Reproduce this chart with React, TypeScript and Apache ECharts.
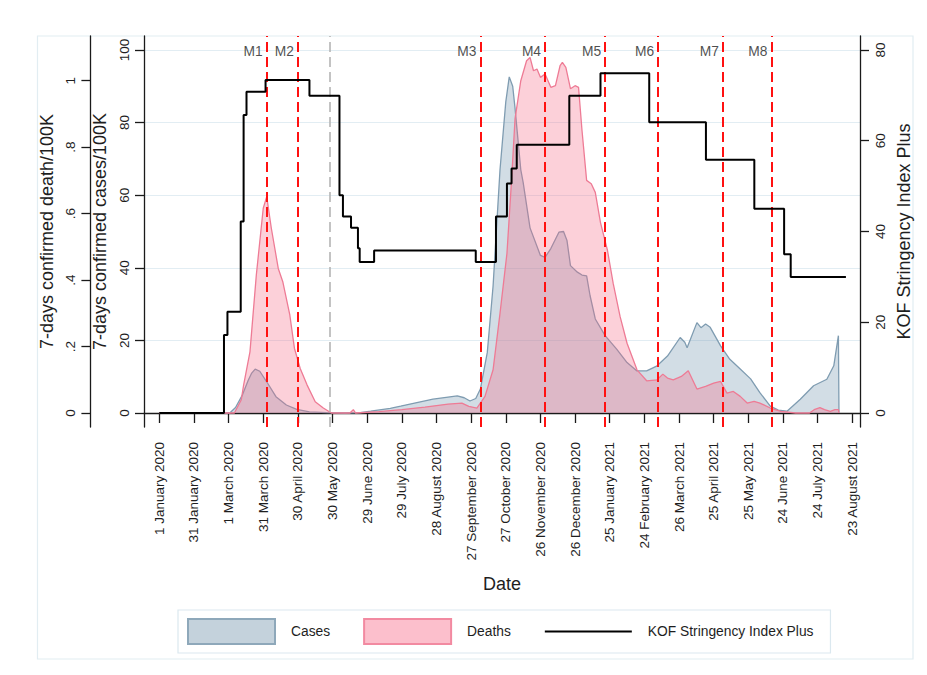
import React, { useEffect, useRef } from 'react';
import * as echarts from 'echarts';

// ---- Data (day index from 1 January 2020) ----
const xTickDays = [0, 30, 60, 90, 120, 150, 180, 210, 240, 270, 300, 330, 360, 390, 420, 450, 480, 510, 540, 570, 600];
const xTickLabels = [
  '1 January 2020', '31 January 2020', '1 March 2020', '31 March 2020', '30 April 2020', '30 May 2020',
  '29 June 2020', '29 July 2020', '28 August 2020', '27 September 2020', '27 October 2020',
  '26 November 2020', '26 December 2020', '25 January 2021', '24 February 2021', '26 March 2021',
  '25 April 2021', '25 May 2021', '24 June 2021', '24 July 2021', '23 August 2021',
];
const casesTicks = [0, 20, 40, 60, 80, 100];
const deathTicks = [0, 0.2, 0.4, 0.6, 0.8, 1];
const deathTickLabels = ['0', '.2', '.4', '.6', '.8', '1'];
const stringencyTicks = [0, 20, 40, 60, 80];

const markerDays = [93, 120, 278, 334, 386, 432, 488, 530];
const markerNames = ['M1', 'M2', 'M3', 'M4', 'M5', 'M6', 'M7', 'M8'];
const greyMarkerDays = [148];

const casesData: [number, number][] = [
  [0, 0], [61, 0], [66, 1.5], [72, 5], [77, 9], [80, 11], [83, 12.1], [87, 11.5], [93, 8.6], [101, 4.5],
  [110, 2.2], [119, 1], [130, 0.3], [145, 0.1], [161, 0], [174, 0.1], [183, 0.5], [200, 1.3], [209, 1.9],
  [225, 3], [237, 3.8], [250, 4.4], [258, 4.7], [264, 4.2], [269, 3.3], [274, 4], [278, 6.6], [284, 16.7],
  [289, 35], [295, 67], [300, 85.7], [303, 92.6], [306, 90], [308, 84], [313, 67], [315, 63.6], [321, 51],
  [330, 43.4], [334, 42.9], [339, 45.3], [346, 49.8], [350, 50], [353, 47.5], [356, 40.6], [362, 38.8],
  [366, 38], [370, 37.8], [373, 32.3], [377.5, 25.9], [386, 21.3], [396, 17.6], [405, 13.9], [413.6, 11.6],
  [422, 11.6], [431, 13], [440, 15.7], [451, 20.8], [455, 19.5], [457, 18], [465.5, 24.9], [469, 23.5],
  [473, 24.5], [477, 23.6], [486, 18.5], [494, 14.8], [503, 12.1], [512, 9.4], [520, 5.6], [529, 1.9],
  [536, 0.8], [543.5, 0.5], [555, 3.8], [566.5, 7.5], [578, 9.3], [584, 13], [588, 21.3], [588.5, 0],
];

const deathsData: [number, number][] = [
  [0, 0], [65, 0], [71, 0.04], [73, 0.084], [78.5, 0.184], [84, 0.415], [90, 0.616], [93, 0.651],
  [97, 0.556], [103, 0.435], [107, 0.394], [113, 0.295], [117, 0.195], [122, 0.134], [128, 0.084],
  [135, 0.034], [142, 0.015], [149, 0], [165, 0], [168, 0.01], [170, 0], [190, 0.004], [210, 0.01],
  [230, 0.018], [250, 0.027], [262, 0.03], [268, 0.02], [275, 0.015], [282, 0.05], [289, 0.13],
  [295, 0.3], [301, 0.48], [305, 0.7], [308, 0.885], [313, 1.0], [318, 1.06], [321, 1.07], [324, 1.03],
  [327, 1.035], [330, 1.01], [334, 1.02], [339, 0.98], [343, 0.985], [347, 1.045], [349, 1.055],
  [352, 1.04], [356, 0.976], [360, 0.985], [363, 0.98], [366, 0.85], [370, 0.7], [374, 0.69],
  [377.5, 0.664], [382, 0.573], [388, 0.49], [393, 0.39], [399, 0.29], [405, 0.21], [413.6, 0.13],
  [422, 0.097], [431, 0.1], [436, 0.117], [440, 0.105], [445, 0.1], [452, 0.11], [458, 0.127],
  [465.5, 0.072], [473, 0.08], [480, 0.09], [486, 0.095], [491.5, 0.06], [497, 0.065], [503, 0.05],
  [509, 0.03], [515, 0.035], [520, 0.03], [529, 0.015], [538, 0.005], [551, 0], [563, 0], [567, 0.01],
  [572, 0.016], [576, 0.01], [581, 0.005], [585, 0.01], [588, 0.01], [588.5, 0],
];

const stringencyData: [number, number][] = [
  [0, 0], [56, 17.2], [59, 22.3], [70.5, 42.2], [73, 65.7], [75.5, 70.8], [92, 73.4], [130, 69.9],
  [156, 48.0], [159, 43.3], [166, 40.8], [172, 36.3], [173.5, 33.3], [186, 35.8], [274, 33.3],
  [291.5, 43.3], [301, 50.6], [305, 53.9], [309.5, 59.1], [355, 69.9], [382, 74.9], [424.2, 64.1],
  [473.3, 55.8], [515.2, 45.0], [541, 35.0], [546.7, 30.0], [594.5, 30.0],
];

const FONT = '"Liberation Sans", Arial, Helvetica, sans-serif';
const TXT = '#1e1e1e';

export default function App() {
  const ref = useRef<HTMLDivElement>(null);
  useEffect(() => {
    if (!ref.current) return;
    const chart = echarts.init(ref.current, undefined, { renderer: 'svg' });
    const axisLineStyle = { color: '#1a1a1a', width: 1.3 };
    const option: any = {
      animation: false,
      backgroundColor: '#ffffff',
      textStyle: { fontFamily: FONT, color: TXT },
      graphic: [
        {
          type: 'rect',
          shape: { x: 37.5, y: 36, width: 875.5, height: 623 },
          style: { fill: 'none', stroke: '#e2edf2', lineWidth: 1.2 },
          silent: true,
          z: 0,
        },
      ],
      grid: { left: 144, right: 67, top: 36, bottom: 248, containLabel: false },
      legend: {
        left: 178,
        top: 610,
        orient: 'horizontal',
        padding: [8, 17, 8, 9],
        borderColor: '#dbe8ef',
        borderWidth: 1.2,
        itemWidth: 87,
        itemHeight: 25,
        itemGap: 33,
        textStyle: { fontSize: 13.8, color: TXT, fontFamily: FONT, padding: [0, 11, 0, 11] },
        data: [
          { name: 'Cases', icon: 'rect', itemStyle: { color: '#c4d2dc', borderColor: '#8ea8ba', borderWidth: 2 } },
          { name: 'Deaths', icon: 'rect', itemStyle: { color: '#fcbfcc', borderColor: '#f28aa1', borderWidth: 2 } },
          {
            name: 'KOF Stringency Index Plus',
            itemStyle: { opacity: 0 },
            lineStyle: { color: '#000000', width: 2, opacity: 1 },
          },
        ],
      },
      xAxis: {
        type: 'value',
        min: -13.25,
        max: 606.7,
        name: 'Date',
        nameLocation: 'middle',
        nameGap: 148,
        nameTextStyle: { fontSize: 18, color: TXT, fontFamily: FONT },
        axisLine: { show: true, lineStyle: axisLineStyle },
        axisTick: { show: true, length: 10, customValues: xTickDays, lineStyle: axisLineStyle },
        axisLabel: {
          customValues: xTickDays,
          rotate: 90,
          margin: 15,
          fontSize: 13.5,
          color: TXT,
          fontFamily: FONT,
          formatter: (v: number) => {
            const i = xTickDays.indexOf(Math.round(v));
            return i >= 0 ? xTickLabels[i] : '';
          },
        },
        splitLine: { show: false },
      },
      yAxis: [
        {
          type: 'value',
          position: 'left',
          min: -3.857,
          max: 103.857,
          name: '7-days confirmed cases/100K',
          nameLocation: 'middle',
          nameGap: 30,
          nameTextStyle: { fontSize: 18, color: TXT, fontFamily: FONT },
          axisLine: { show: true, onZero: false, lineStyle: axisLineStyle },
          axisTick: { show: true, length: 9, customValues: casesTicks, lineStyle: axisLineStyle },
          axisLabel: { customValues: casesTicks, rotate: 90, margin: 13, fontSize: 13.5, color: TXT, fontFamily: FONT },
          splitLine: { show: true, lineStyle: { color: '#e2edf3', width: 1.2 } },
        },
        {
          type: 'value',
          position: 'left',
          offset: 53.6,
          min: -0.0421,
          max: 1.1345,
          name: '7-days confirmed death/100K',
          nameLocation: 'middle',
          nameGap: 30,
          nameTextStyle: { fontSize: 18, color: TXT, fontFamily: FONT },
          axisLine: { show: true, onZero: false, lineStyle: axisLineStyle },
          axisTick: { show: true, length: 9, customValues: deathTicks, lineStyle: axisLineStyle },
          axisLabel: {
            customValues: deathTicks,
            rotate: 90,
            margin: 13,
            fontSize: 13.5,
            color: TXT,
            fontFamily: FONT,
            formatter: (v: number) => {
              const i = deathTicks.findIndex((t) => Math.abs(t - v) < 1e-6);
              return i >= 0 ? deathTickLabels[i] : '';
            },
          },
          splitLine: { show: false },
        },
        {
          type: 'value',
          position: 'right',
          min: -3.085,
          max: 83.085,
          name: 'KOF Stringency Index Plus',
          nameLocation: 'middle',
          nameGap: 30,
          nameTextStyle: { fontSize: 18, color: TXT, fontFamily: FONT },
          axisLine: { show: true, onZero: false, lineStyle: axisLineStyle },
          axisTick: { show: true, length: 9, customValues: stringencyTicks, lineStyle: axisLineStyle },
          axisLabel: { customValues: stringencyTicks, rotate: 90, margin: 13, fontSize: 13.5, color: TXT, fontFamily: FONT },
          splitLine: { show: false },
        },
      ],
      series: [
        {
          name: 'Cases',
          type: 'line',
          yAxisIndex: 0,
          data: casesData,
          symbol: 'none',
          smooth: false,
          color: '#c4d2dc',
          lineStyle: { color: '#7f9cb1', width: 1.3 },
          areaStyle: { color: 'rgba(112,148,172,0.45)', origin: 0 },
          z: 2,
        },
        {
          name: 'Deaths',
          type: 'line',
          yAxisIndex: 1,
          data: deathsData,
          symbol: 'none',
          smooth: false,
          color: '#fcbfcc',
          lineStyle: { color: '#ee7b95', width: 1.3 },
          areaStyle: { color: 'rgba(244,104,134,0.45)', origin: 0 },
          z: 3,
        },
        {
          name: 'markers',
          type: 'scatter',
          yAxisIndex: 0,
          data: markerDays.map((d) => [d, 99.5]),
          symbolSize: 0,
          silent: true,
          z: 4,
          label: {
            show: true,
            position: 'left',
            distance: 4,
            fontSize: 13.8,
            color: TXT,
            fontFamily: FONT,
            formatter: (p: any) => markerNames[p.dataIndex],
          },
          markLine: {
            silent: true,
            symbol: ['none', 'none'],
            label: { show: false },
            data: [
              ...markerDays.map((d) => ({ xAxis: d, lineStyle: { color: '#ff1111', width: 2, type: [10, 5] } })),
              ...greyMarkerDays.map((d) => ({ xAxis: d, lineStyle: { color: '#b5b5b5', width: 1.6, type: [10, 5] } })),
            ],
          },
        },
        {
          name: 'KOF Stringency Index Plus',
          type: 'line',
          yAxisIndex: 2,
          data: stringencyData,
          step: 'end',
          symbol: 'none',
          color: '#000000',
          lineStyle: { color: '#000000', width: 2 },
          z: 5,
        },
      ],
    };
    chart.setOption(option);
    return () => chart.dispose();
  }, []);
  return <div ref={ref} style={{ position: 'fixed', left: 0, top: 0, width: 927, height: 675 }} />;
}
